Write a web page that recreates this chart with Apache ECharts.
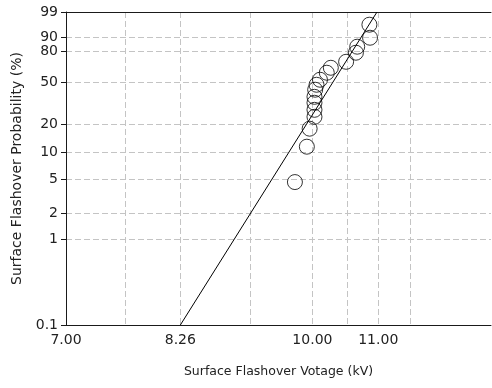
<!DOCTYPE html>
<html>
<head>
<meta charset="utf-8">
<script src="https://cdn.jsdelivr.net/npm/echarts@6/dist/echarts.min.js"></script>
<style>
  html, body { margin: 0; padding: 0; background: #fff; }
  #chart { width: 492px; height: 388px; }
</style>
</head>
<body>
<div id="chart"></div>
<script>
// tick values as printed on the plot
const probTicks = [0.1, 1, 2, 5, 10, 20, 50, 80, 90, 99];
const kvLabelTicks = [7.00, 8.26, 10.00, 11.00];
const kvGridTicks = [7.63, 8.26, 9.14, 10.00, 10.52, 11.00, 11.52];
const kvRange = [7.00, 12.95];
const probRange = [0.1, 99];

// measured points (kV, cumulative %)
const flashoverKv = [9.75, 9.92, 9.96, 10.03, 10.03, 10.03, 10.03, 10.04, 10.06, 10.11, 10.21, 10.27, 10.50, 10.65, 10.67, 10.87, 10.86];
const flashoverProb = [4.6, 11.5, 18.0, 23.9, 28.1, 32.9, 37.4, 43.3, 47.7, 52.4, 59.2, 64.1, 70.0, 78.5, 83.6, 90.0, 96.2];

// fitted Weibull line
const fitKv = [8.26, 10.98];
const fitProb = [0.1, 99];

// Weibull paper: x = ln(V), y = ln(-ln(1-F))
const weib = p => Math.log(-Math.log(1 - p / 100));
const unweib = v => (1 - Math.exp(-Math.exp(v))) * 100;

const chart = echarts.init(document.getElementById('chart'));

const font = 'DejaVu Sans';
const axisColor = '#1a1a1a';
const gridLine = { show: true, lineStyle: { color: '#c4c4c4', type: [6, 3], width: 1 } };

const option = {
  animation: false,
  textStyle: { fontFamily: font },
  grid: { left: 66, top: 12, right: 1, bottom: 63, containLabel: false },
  xAxis: [
    {
      type: 'value',
      min: Math.log(kvRange[0]),
      max: Math.log(kvRange[1]),
      name: 'Surface Flashover Votage (kV)',
      nameLocation: 'middle',
      nameGap: 40,
      nameTextStyle: { fontSize: 12.5, color: '#222', fontFamily: font },
      axisLine: { show: true, onZero: false, lineStyle: { color: axisColor, width: 1 } },
      axisTick: { show: false, customValues: kvGridTicks.map(Math.log) },
      axisLabel: {
        customValues: kvLabelTicks.map(Math.log),
        formatter: v => Math.exp(v).toFixed(2),
        fontSize: 14, color: '#222', margin: 8, fontFamily: font
      },
      splitLine: gridLine
    },
    {
      type: 'value',
      position: 'top',
      min: Math.log(kvRange[0]),
      max: Math.log(kvRange[1]),
      axisLine: { show: true, onZero: false, lineStyle: { color: axisColor, width: 1 } },
      axisTick: { show: false },
      axisLabel: { show: false },
      splitLine: { show: false }
    }
  ],
  yAxis: {
    type: 'value',
    min: weib(probRange[0]),
    max: weib(probRange[1]),
    name: 'Surface Flashover Probability (%)',
    nameLocation: 'middle',
    nameGap: 42,
    nameTextStyle: { fontSize: 14, color: '#222', fontFamily: font },
    axisLine: { show: true, onZero: false, lineStyle: { color: axisColor, width: 1 } },
    axisTick: { show: true, length: 5, customValues: probTicks.map(weib), lineStyle: { color: axisColor } },
    axisLabel: {
      customValues: probTicks.map(weib),
      formatter: v => { const p = unweib(v); return p < 1 ? p.toFixed(1) : String(Math.round(p)); },
      fontSize: 14, color: '#222', margin: 8, fontFamily: font
    },
    splitLine: gridLine
  },
  series: [
    {
      type: 'line',
      data: fitKv.map((k, i) => [Math.log(k), weib(fitProb[i])]),
      symbol: 'none',
      lineStyle: { color: '#000', width: 1 },
      silent: true,
      z: 3
    },
    {
      type: 'scatter',
      data: flashoverKv.map((k, i) => [Math.log(k), weib(flashoverProb[i])]),
      symbol: 'circle',
      symbolSize: 15,
      itemStyle: { color: 'rgba(0,0,0,0)', borderColor: '#000', borderWidth: 1 },
      z: 4
    }
  ]
};

chart.setOption(option);
</script>
</body>
</html>
